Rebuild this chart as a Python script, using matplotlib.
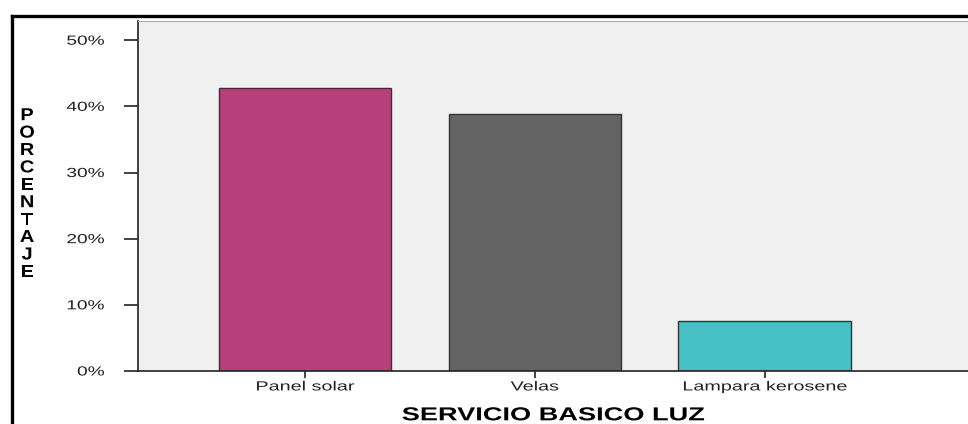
import matplotlib.pyplot as plt
from matplotlib.lines import Line2D
from matplotlib.ticker import PercentFormatter
from matplotlib.patheffects import AbstractPathEffect
from matplotlib.transforms import Affine2D

plt.rcParams['font.family'] = ['Liberation Sans', 'DejaVu Sans']

categorias = ['Panel solar', 'Velas', 'Lampara kerosene']
porcentajes = [42.7, 38.8, 7.6]
colores = ['#b8407a', '#646464', '#47c1c5']


class Ensanchar(AbstractPathEffect):
    # estira el texto en horizontal, manteniendo fijo un punto (izq/centro/der)
    def __init__(self, sx=1.4, ancla='center'):
        super().__init__()
        self.sx = sx
        self.ancla = ancla

    def draw_path(self, renderer, gc, tpath, affine, rgbFace=None):
        xs = tpath.vertices[:, 0]
        if len(xs) == 0:
            return
        if self.ancla == 'right':
            cx = xs.max()
        elif self.ancla == 'left':
            cx = xs.min()
        else:
            cx = (xs.min() + xs.max()) / 2
        t = Affine2D().translate(-cx, 0).scale(self.sx, 1).translate(cx, 0) + affine
        renderer.draw_path(gc, tpath, t, rgbFace)


fig = plt.figure(figsize=(9.68, 4.24), dpi=100)
ax = fig.add_axes([138 / 968, 53 / 424, 1 - 138 / 968, 350 / 424])
ax.set_facecolor('#f0f0f0')

x = range(len(categorias))
ax.bar(x, porcentajes, width=0.75, color=colores, edgecolor='#333333', linewidth=1.0, zorder=2)

ax.set_xlim(-0.726, 2.885)
ax.set_ylim(0, 52.9)
ax.set_yticks([0, 10, 20, 30, 40, 50])
ax.yaxis.set_major_formatter(PercentFormatter(decimals=0))
ax.set_xticks(list(x))
ax.set_xticklabels(categorias)

ax.tick_params(axis='y', length=10, width=1.2, pad=14, labelsize=9.5, colors='#222222')
ax.tick_params(axis='x', length=5, width=1.2, pad=2.5, labelsize=9.5, colors='#222222')

for lbl in ax.get_yticklabels():
    lbl.set_path_effects([Ensanchar(1.45, 'right')])
for lbl in ax.get_xticklabels():
    lbl.set_path_effects([Ensanchar(1.5, 'center')])

for s in ['left', 'bottom']:
    ax.spines[s].set_color('#222222')
    ax.spines[s].set_linewidth(1.2)
ax.spines['top'].set_color('#aaaaaa')
ax.spines['right'].set_visible(False)

xl = ax.set_xlabel('SERVICIO BASICO LUZ', fontsize=13.5, fontweight='bold', labelpad=10)
xl.set_path_effects([Ensanchar(1.45, 'center')])

# etiqueta vertical letra por letra
yl = fig.text(27 / 968, 1 - 194 / 424, '\n'.join('PORCENTAJE'), ha='center', va='center',
              fontsize=12.5, fontweight='bold', linespacing=1.2)
yl.set_path_effects([Ensanchar(1.15, 'center')])

# marco negro
fig.add_artist(Line2D([11.5 / 968, 1], [1 - 15.5 / 424, 1 - 15.5 / 424], color='black', lw=2.4))
fig.add_artist(Line2D([11.5 / 968, 11.5 / 968], [0, 1 - 15.5 / 424], color='black', lw=2.4))

fig.savefig('out.png', dpi=100)
